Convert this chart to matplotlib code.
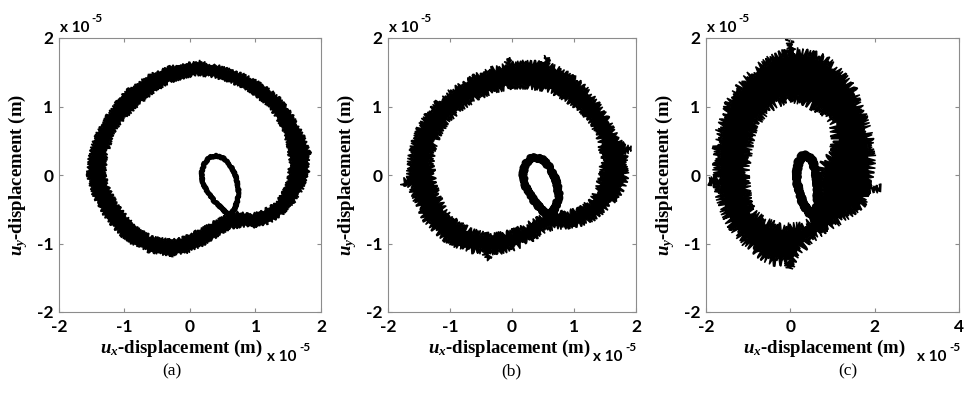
import matplotlib
matplotlib.use("Agg")
import matplotlib.pyplot as plt

plt.rcParams['mathtext.fontset'] = 'custom'
plt.rcParams['mathtext.it'] = 'Liberation Serif:bold:italic'
plt.rcParams['mathtext.rm'] = 'Liberation Serif:bold'

# orbit, units of 1e-5 m
# each panel: outer edge of the noisy band, edge of the empty hole inside it,
# and the centre line of the small inner loop

# (a)
a_edge_x = [-0.31, -0.45, -0.6, -0.75, -0.9, -1.05, -1.2, -1.3, -1.38, -1.47, -1.52, -1.56, -1.55, -1.54, -1.5,
            -1.46, -1.4, -1.33, -1.28, -1.2, -1.12, -1.0, -0.9, -0.75, -0.6, -0.45, -0.3, -0.15, 0.0, 0.15, 0.28,
            0.4, 0.55, 0.7, 0.85, 1.0, 1.12, 1.25, 1.37, 1.48, 1.57, 1.65, 1.72, 1.77, 1.83, 1.8, 1.81, 1.75, 1.72,
            1.65, 1.58, 1.5, 1.4, 1.3, 1.2, 1.08, 0.96, 0.85, 0.75, 0.6, 0.45, 0.32, 0.2, 0.08, -0.05, -0.18]
a_edge_y = [-1.19, -1.14, -1.13, -1.06, -0.99, -0.88, -0.72, -0.6, -0.45, -0.32, -0.15, -0.02, 0.1, 0.25, 0.4,
            0.52, 0.65, 0.74, 0.85, 0.95, 1.07, 1.2, 1.28, 1.37, 1.47, 1.52, 1.58, 1.6, 1.63, 1.66, 1.62, 1.6,
            1.56, 1.5, 1.45, 1.38, 1.3, 1.22, 1.12, 0.98, 0.86, 0.72, 0.6, 0.48, 0.32, 0.18, 0.05, -0.1, -0.2,
            -0.3, -0.4, -0.49, -0.58, -0.64, -0.7, -0.73, -0.76, -0.74, -0.76, -0.78, -0.87, -0.94, -1.02, -1.07,
            -1.13, -1.15]
a_hole_x = [-0.3, -0.45, -0.6, -0.8, -0.97, -1.1, -1.18, -1.26, -1.3, -1.29, -1.28, -1.22, -1.18, -1.05, -0.87,
            -0.75, -0.6, -0.45, -0.3, -0.1, 0.1, 0.3, 0.45, 0.62, 0.8, 0.95, 1.05, 1.15, 1.22, 1.32, 1.4, 1.46,
            1.5, 1.53, 1.51, 1.5, 1.45, 1.37, 1.3, 1.2, 1.05, 0.92, 0.82, 0.72, 0.62, 0.55, 0.42, 0.3, 0.15, 0.0,
            -0.15]
a_hole_y = [-0.95, -0.93, -0.9, -0.78, -0.6, -0.45, -0.3, -0.15, 0.0, 0.15, 0.3, 0.45, 0.6, 0.78, 0.95, 1.06,
            1.18, 1.28, 1.36, 1.42, 1.47, 1.44, 1.41, 1.36, 1.29, 1.2, 1.12, 1.05, 0.98, 0.84, 0.7, 0.55, 0.4, 0.2,
            0.05, -0.05, -0.2, -0.33, -0.42, -0.48, -0.55, -0.58, -0.56, -0.55, -0.57, -0.6, -0.66, -0.72, -0.8,
            -0.87, -0.93]
a_loop_x = [0.6, 0.5, 0.37, 0.26, 0.19, 0.18, 0.22, 0.3, 0.4, 0.52, 0.63, 0.7, 0.74, 0.73, 0.68, 0.6]
a_loop_y = [-0.6, -0.5, -0.38, -0.24, -0.1, 0.05, 0.17, 0.26, 0.28, 0.24, 0.12, -0.02, -0.2, -0.36, -0.5, -0.6]

# (b)
b_edge_x = [-0.4, -0.45, -0.7, -0.9, -1.1, -1.25, -1.4, -1.5, -1.6, -1.65, -1.78, -1.66, -1.66, -1.63, -1.58,
            -1.5, -1.4, -1.27, -1.13, -0.95, -0.75, -0.55, -0.3, -0.1, -0.06, 0.0, 0.2, 0.4, 0.5, 0.55, 0.6, 0.8,
            1.02, 1.2, 1.36, 1.5, 1.62, 1.72, 1.8, 1.93, 1.82, 1.84, 1.84, 1.78, 1.7, 1.6, 1.5, 1.35, 1.15, 0.9,
            0.7, 0.55, 0.4, 0.2, 0.0, -0.2, -0.35]
b_edge_y = [-1.25, -1.12, -1.1, -1.03, -0.93, -0.8, -0.66, -0.47, -0.28, -0.15, -0.1, -0.04, 0.12, 0.3, 0.5,
            0.68, 0.85, 1.0, 1.12, 1.25, 1.36, 1.46, 1.55, 1.6, 1.72, 1.62, 1.64, 1.63, 1.62, 1.74, 1.6, 1.53,
            1.4, 1.25, 1.07, 0.88, 0.68, 0.5, 0.42, 0.38, 0.33, 0.15, -0.05, -0.2, -0.33, -0.4, -0.5, -0.62,
            -0.7, -0.75, -0.76, -0.8, -0.9, -1.0, -1.08, -1.12, -1.13]
b_hole_x = [-0.4, -0.7, -0.9, -1.08, -1.2, -1.26, -1.3, -1.28, -1.2, -1.05, -0.81, -0.55, -0.3, 0.0, 0.3, 0.6,
            0.85, 1.1, 1.3, 1.42, 1.46, 1.44, 1.38, 1.28, 1.1, 0.85, 0.65, 0.5, 0.3, 0.1, -0.15]
b_hole_y = [-0.88, -0.8, -0.68, -0.51, -0.3, -0.07, 0.15, 0.35, 0.55, 0.78, 0.98, 1.13, 1.23, 1.29, 1.29, 1.23,
            1.12, 0.96, 0.75, 0.5, 0.25, 0.0, -0.2, -0.37, -0.5, -0.56, -0.55, -0.6, -0.7, -0.8, -0.86]
b_loop_x = [0.58, 0.45, 0.32, 0.22, 0.18, 0.2, 0.28, 0.38, 0.5, 0.62, 0.72, 0.76, 0.7, 0.58]
b_loop_y = [-0.6, -0.48, -0.33, -0.17, 0.0, 0.13, 0.23, 0.26, 0.22, 0.1, -0.1, -0.3, -0.48, -0.6]

# (c)
c_edge_x = [0.7, 0.5, 0.35, 0.2, 0.06, 0.0, -0.06, -0.2, -0.4, -0.6, -0.8, -1.05, -1.3, -1.5, -1.62, -1.7,
            -1.72, -1.93, -1.73, -1.76, -1.74, -1.7, -1.6, -1.45, -1.3, -1.1, -0.9, -0.7, -0.45, -0.2, -0.06,
            -0.02, 0.03, 0.3, 0.6, 0.85, 1.05, 1.25, 1.48, 1.6, 1.72, 1.85, 1.93, 1.92, 1.88, 1.85, 2.16, 1.8,
            1.72, 1.45, 1.18, 0.95]
c_edge_y = [-0.85, -0.93, -1.02, -1.14, -1.24, -1.36, -1.26, -1.27, -1.27, -1.22, -1.12, -1.0, -0.82, -0.64,
            -0.45, -0.25, -0.14, -0.1, -0.05, 0.15, 0.4, 0.6, 0.8, 1.05, 1.2, 1.38, 1.5, 1.6, 1.7, 1.76, 1.8,
            1.97, 1.8, 1.8, 1.75, 1.68, 1.58, 1.45, 1.27, 1.08, 0.87, 0.62, 0.39, 0.15, -0.08, -0.15, -0.19,
            -0.24, -0.41, -0.55, -0.66, -0.76]
c_hole_x = [0.0, 0.3, 0.55, 0.82, 1.02, 1.07, 1.02, 0.9, 0.76, 0.69, 0.66, 0.55, 0.3, 0.0, -0.3, -0.6, -0.85,
            -1.0, -1.05, -1.02, -0.98, -0.86, -0.6, -0.3]
c_hole_y = [1.12, 1.08, 1.0, 0.9, 0.74, 0.52, 0.35, 0.25, 0.12, -0.1, -0.4, -0.66, -0.74, -0.76, -0.75, -0.68,
            -0.57, -0.4, -0.1, 0.2, 0.45, 0.72, 0.92, 1.05]
c_loop_x = [0.58, 0.45, 0.32, 0.22, 0.16, 0.16, 0.2, 0.29, 0.4, 0.52, 0.61, 0.65, 0.65, 0.62, 0.58]
c_loop_y = [-0.62, -0.55, -0.44, -0.28, -0.1, 0.07, 0.2, 0.28, 0.29, 0.21, 0.02, -0.2, -0.38, -0.52, -0.62]

xlims = [(-2, 2), (-2, 2), (-2, 4)]
xticks = [[-2, -1, 0, 1, 2], [-2, -1, 0, 1, 2], [-2, 0, 2, 4]]
yticks = [-2, -1, 0, 1, 2]
captions = ['(a)', '(b)', '(c)']

W, H = 966, 405
fig = plt.figure(figsize=(W / 100, H / 100), dpi=100)

# axes boxes in pixels: left, right (top 38, bottom 312)
boxes = [(59, 321), (388, 636), (706, 959)]
top_px, bot_px = 38, 312
caption_px = [172, 511, 848]
xlabel_pos = [0.466, 0.49, 0.468]
exp_right = [54, 43, 42]

orbits = [(a_edge_x, a_edge_y, a_hole_x, a_hole_y, a_loop_x, a_loop_y),
          (b_edge_x, b_edge_y, b_hole_x, b_hole_y, b_loop_x, b_loop_y),
          (c_edge_x, c_edge_y, c_hole_x, c_hole_y, c_loop_x, c_loop_y)]
loop_width = [3.6, 5.0, 5.5]
# how rough the band edges look (pixels)
rough = [(1.5, 2.0, 3), (3.0, 2.0, 3), (4.5, 2.0, 3)]
loop_rough = [0.7, 1.5, 1.5]

frame_col = '#8c8c8c'
tick_font = dict(family='Lato', weight='bold', size=12.5)
exp_font = dict(family='Lato', weight='bold', size=11)

for i, (l, r) in enumerate(boxes):
    ax = fig.add_axes([l / W, (H - bot_px) / H, (r - l) / W, (bot_px - top_px) / H])
    ex, ey, hx, hy, lx, ly = orbits[i]
    band = ax.fill(ex, ey, facecolor='black', edgecolor='black', lw=1.0)[0]
    band.set_sketch_params(*rough[i])
    hole = ax.fill(hx, hy, facecolor='white', edgecolor='black', lw=1.0)[0]
    hole.set_sketch_params(*rough[i])
    loop, = ax.plot(lx, ly, color='black', lw=loop_width[i], solid_joinstyle='round', solid_capstyle='round')
    loop.set_sketch_params(loop_rough[i], 2.0, 3)

    ax.set_xlim(*xlims[i])
    ax.set_ylim(-2, 2)
    ax.set_xticks(xticks[i])
    ax.set_yticks(yticks)
    ax.set_xticklabels([str(t) for t in xticks[i]], fontdict=tick_font)
    ax.set_yticklabels([str(t) for t in yticks], fontdict=tick_font)
    ax.tick_params(direction='in', length=3, width=0.8, color=frame_col, top=True, right=True)
    ax.tick_params(axis='x', pad=5)
    ax.tick_params(axis='y', pad=4)
    for s in ax.spines.values():
        s.set_color(frame_col)
        s.set_linewidth(0.8)

    ax.set_xlabel(r'$u_x$-displacement (m)', family='Liberation Serif', weight='bold', size=13.5, labelpad=0)
    ax.xaxis.set_label_coords(xlabel_pos[i], -0.095)
    ax.set_ylabel(r'$u_y$-displacement (m)', family='Liberation Serif', weight='bold', size=13.5, labelpad=0)
    ax.yaxis.set_label_coords(-29 / (r - l), 0.5)

    # MATLAB style exponent labels
    fig.text((l + 1) / W, 1 - 32 / H, 'x 10', ha='left', va='baseline', **exp_font)
    fig.text((l + 32) / W, 1 - 22 / H, '-5', ha='left', va='baseline', family='Lato', weight='bold', size=8.5)
    xr = r - exp_right[i]
    fig.text(xr / W, 1 - 361 / H, 'x 10', ha='left', va='baseline', **exp_font)
    fig.text((xr + 32) / W, 1 - 351 / H, '-5', ha='left', va='baseline', family='Lato', weight='bold', size=8.5)

    fig.text(caption_px[i] / W, 1 - 371 / H, captions[i], ha='center', va='center',
             family='Liberation Serif', size=12.5)

fig.savefig('out.png', dpi=100)
